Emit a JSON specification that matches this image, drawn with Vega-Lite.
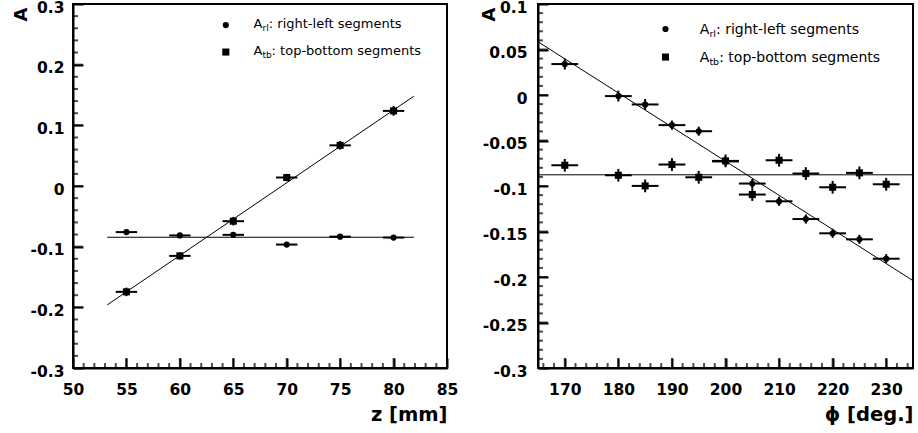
{
  "$schema": "https://vega.github.io/schema/vega-lite/v6.json",
  "padding": {"left": 11, "top": -1, "right": 5, "bottom": 5},
  "bounds": "flush",
  "spacing": 91,
  "config": {
    "font": "DejaVu Sans",
    "view": {"stroke": "black", "strokeWidth": 2},
    "axis": {
      "labelFont": "DejaVu Sans", "labelFontWeight": "bold", "labelFontSize": 15.5, "labelColor": "black",
      "titleFont": "DejaVu Sans", "titleFontWeight": "bold", "titleFontSize": 19.5, "titleColor": "black",
      "domainColor": "black", "domainWidth": 2, "tickColor": "black", "tickWidth": 2,
      "grid": false, "labelFlush": false, "labelOverlap": false
    }
  },
  "datasets": {
    "zMajor": [{"v": 55}, {"v": 60}, {"v": 65}, {"v": 70}, {"v": 75}, {"v": 80}],
    "zMinor": [{"v": 51}, {"v": 52}, {"v": 53}, {"v": 54}, {"v": 56}, {"v": 57}, {"v": 58}, {"v": 59}, {"v": 61}, {"v": 62}, {"v": 63}, {"v": 64},
      {"v": 66}, {"v": 67}, {"v": 68}, {"v": 69}, {"v": 71}, {"v": 72}, {"v": 73}, {"v": 74}, {"v": 76}, {"v": 77}, {"v": 78}, {"v": 79},
      {"v": 81}, {"v": 82}, {"v": 83}, {"v": 84}],
    "aZMajor": [{"v": -0.2}, {"v": -0.1}, {"v": 0}, {"v": 0.1}, {"v": 0.2}],
    "aZMinor": [{"v": -0.28}, {"v": -0.26}, {"v": -0.24}, {"v": -0.22}, {"v": -0.18}, {"v": -0.16}, {"v": -0.14}, {"v": -0.12},
      {"v": -0.08}, {"v": -0.06}, {"v": -0.04}, {"v": -0.02}, {"v": 0.02}, {"v": 0.04}, {"v": 0.06}, {"v": 0.08},
      {"v": 0.12}, {"v": 0.14}, {"v": 0.16}, {"v": 0.18}, {"v": 0.22}, {"v": 0.24}, {"v": 0.26}, {"v": 0.28}],
    "phiMajor": [{"v": 170}, {"v": 180}, {"v": 190}, {"v": 200}, {"v": 210}, {"v": 220}, {"v": 230}],
    "phiMinor": [{"v": 166}, {"v": 168}, {"v": 172}, {"v": 174}, {"v": 176}, {"v": 178}, {"v": 182}, {"v": 184}, {"v": 186}, {"v": 188},
      {"v": 192}, {"v": 194}, {"v": 196}, {"v": 198}, {"v": 202}, {"v": 204}, {"v": 206}, {"v": 208}, {"v": 212}, {"v": 214},
      {"v": 216}, {"v": 218}, {"v": 222}, {"v": 224}, {"v": 226}, {"v": 228}, {"v": 232}, {"v": 234}],
    "aPMajor": [{"v": -0.25}, {"v": -0.2}, {"v": -0.15}, {"v": -0.1}, {"v": -0.05}, {"v": 0}, {"v": 0.05}],
    "aPMinor": [{"v": -0.29}, {"v": -0.28}, {"v": -0.27}, {"v": -0.26}, {"v": -0.24}, {"v": -0.23}, {"v": -0.22}, {"v": -0.21},
      {"v": -0.19}, {"v": -0.18}, {"v": -0.17}, {"v": -0.16}, {"v": -0.14}, {"v": -0.13}, {"v": -0.12}, {"v": -0.11},
      {"v": -0.09}, {"v": -0.08}, {"v": -0.07}, {"v": -0.06}, {"v": -0.04}, {"v": -0.03}, {"v": -0.02}, {"v": -0.01},
      {"v": 0.01}, {"v": 0.02}, {"v": 0.03}, {"v": 0.04}, {"v": 0.06}, {"v": 0.07}, {"v": 0.08}, {"v": 0.09}],
    "pointsZ": [
      {"series": "rl", "z": 55, "A": -0.076, "zLo": 54, "zHi": 56, "ALo": -0.079, "AHi": -0.073},
      {"series": "rl", "z": 60, "A": -0.0815, "zLo": 59, "zHi": 61, "ALo": -0.0845, "AHi": -0.0785},
      {"series": "rl", "z": 65, "A": -0.0805, "zLo": 64, "zHi": 66, "ALo": -0.0835, "AHi": -0.0775},
      {"series": "rl", "z": 70, "A": -0.0965, "zLo": 69, "zHi": 71, "ALo": -0.0995, "AHi": -0.0935},
      {"series": "rl", "z": 75, "A": -0.0835, "zLo": 74, "zHi": 76, "ALo": -0.0865, "AHi": -0.0805},
      {"series": "rl", "z": 80, "A": -0.085, "zLo": 79, "zHi": 81, "ALo": -0.088, "AHi": -0.082},
      {"series": "tb", "z": 55, "A": -0.1745, "zLo": 54, "zHi": 56, "ALo": -0.1815, "AHi": -0.1675},
      {"series": "tb", "z": 60, "A": -0.1152, "zLo": 59, "zHi": 61, "ALo": -0.1212, "AHi": -0.1092},
      {"series": "tb", "z": 65, "A": -0.058, "zLo": 64, "zHi": 66, "ALo": -0.065, "AHi": -0.051},
      {"series": "tb", "z": 70, "A": 0.014, "zLo": 69, "zHi": 71, "ALo": 0.008, "AHi": 0.02},
      {"series": "tb", "z": 75, "A": 0.067, "zLo": 74, "zHi": 76, "ALo": 0.06, "AHi": 0.074},
      {"series": "tb", "z": 80, "A": 0.1238, "zLo": 79, "zHi": 81, "ALo": 0.1158, "AHi": 0.1318}
    ],
    "fitsZ": [
      {"fit": "rl", "z": 53.2, "A": -0.0845},
      {"fit": "rl", "z": 81.9, "A": -0.0845},
      {"fit": "tb", "z": 53.2, "A": -0.196},
      {"fit": "tb", "z": 81.9, "A": 0.148}
    ],
    "pointsPhi": [
      {"series": "rl", "phi": 170, "A": 0.034, "pLo": 167.5, "pHi": 172.5, "ALo": 0.028, "AHi": 0.04},
      {"series": "rl", "phi": 180, "A": -0.0012, "pLo": 177.5, "pHi": 182.5, "ALo": -0.0072, "AHi": 0.0048},
      {"series": "rl", "phi": 185, "A": -0.0104, "pLo": 182.5, "pHi": 187.5, "ALo": -0.0164, "AHi": -0.0044},
      {"series": "rl", "phi": 190, "A": -0.0331, "pLo": 187.5, "pHi": 192.5, "ALo": -0.0381, "AHi": -0.0281},
      {"series": "rl", "phi": 195, "A": -0.0398, "pLo": 192.5, "pHi": 197.5, "ALo": -0.0448, "AHi": -0.0348},
      {"series": "rl", "phi": 200, "A": -0.073, "pLo": 197.5, "pHi": 202.5, "ALo": -0.078, "AHi": -0.068},
      {"series": "rl", "phi": 205, "A": -0.0973, "pLo": 202.5, "pHi": 207.5, "ALo": -0.1023, "AHi": -0.0923},
      {"series": "rl", "phi": 210, "A": -0.1168, "pLo": 207.5, "pHi": 212.5, "ALo": -0.1218, "AHi": -0.1118},
      {"series": "rl", "phi": 215, "A": -0.1363, "pLo": 212.5, "pHi": 217.5, "ALo": -0.1413, "AHi": -0.1313},
      {"series": "rl", "phi": 220, "A": -0.152, "pLo": 217.5, "pHi": 222.5, "ALo": -0.157, "AHi": -0.147},
      {"series": "rl", "phi": 225, "A": -0.1586, "pLo": 222.5, "pHi": 227.5, "ALo": -0.1636, "AHi": -0.1536},
      {"series": "rl", "phi": 230, "A": -0.1799, "pLo": 227.5, "pHi": 232.5, "ALo": -0.1849, "AHi": -0.1749},
      {"series": "tb", "phi": 170, "A": -0.0772, "pLo": 167.5, "pHi": 172.5, "ALo": -0.0842, "AHi": -0.0702},
      {"series": "tb", "phi": 180, "A": -0.0882, "pLo": 177.5, "pHi": 182.5, "ALo": -0.0952, "AHi": -0.0812},
      {"series": "tb", "phi": 185, "A": -0.0999, "pLo": 182.5, "pHi": 187.5, "ALo": -0.1069, "AHi": -0.0929},
      {"series": "tb", "phi": 190, "A": -0.0764, "pLo": 187.5, "pHi": 192.5, "ALo": -0.0834, "AHi": -0.0694},
      {"series": "tb", "phi": 195, "A": -0.0904, "pLo": 192.5, "pHi": 197.5, "ALo": -0.0974, "AHi": -0.0834},
      {"series": "tb", "phi": 200, "A": -0.0724, "pLo": 197.5, "pHi": 202.5, "ALo": -0.0794, "AHi": -0.0654},
      {"series": "tb", "phi": 205, "A": -0.1094, "pLo": 202.5, "pHi": 207.5, "ALo": -0.1164, "AHi": -0.1024},
      {"series": "tb", "phi": 210, "A": -0.0717, "pLo": 207.5, "pHi": 212.5, "ALo": -0.0787, "AHi": -0.0647},
      {"series": "tb", "phi": 215, "A": -0.0863, "pLo": 212.5, "pHi": 217.5, "ALo": -0.0933, "AHi": -0.0793},
      {"series": "tb", "phi": 220, "A": -0.1014, "pLo": 217.5, "pHi": 222.5, "ALo": -0.1084, "AHi": -0.0944},
      {"series": "tb", "phi": 225, "A": -0.0856, "pLo": 222.5, "pHi": 227.5, "ALo": -0.0926, "AHi": -0.0786},
      {"series": "tb", "phi": 230, "A": -0.0981, "pLo": 227.5, "pHi": 232.5, "ALo": -0.1051, "AHi": -0.0911}
    ],
    "fitsPhi": [
      {"fit": "rl", "phi": 165, "A": 0.0585},
      {"fit": "rl", "phi": 235, "A": -0.204},
      {"fit": "tb", "phi": 165, "A": -0.0877},
      {"fit": "tb", "phi": 235, "A": -0.0877}
    ],
    "legendRows": [
      {"series": "rl", "main": "A", "sub": "rl", "desc": ": right-left segments"},
      {"series": "tb", "main": "A", "sub": "tb", "desc": ": top-bottom segments"}
    ]
  },
  "hconcat": [
    {
      "width": 374,
      "height": 364,
      "resolve": {"axis": {"x": "independent", "y": "independent"}},
      "layer": [
        {
          "data": {"name": "fitsZ"},
          "mark": {"type": "line", "color": "black", "strokeWidth": 1, "clip": true},
          "encoding": {
            "x": {"field": "z", "type": "quantitative",
              "scale": {"domain": [50, 85], "nice": false, "zero": false},
              "axis": {"orient": "bottom", "values": [50, 55, 60, 65, 70, 75, 80, 85], "format": "d",
                "tickSize": -10, "labelPadding": 36.5, "labelBaseline": "alphabetic",
                "title": "z [mm]", "titleAnchor": "end", "titleAlign": "right", "titleX": 374, "titleY": 52.5, "titleBaseline": "alphabetic"}},
            "y": {"field": "A", "type": "quantitative",
              "scale": {"domain": [-0.3, 0.3], "nice": false, "zero": false},
              "axis": {"orient": "left", "values": [-0.3, -0.2, -0.1, 0, 0.1, 0.2, 0.3],
                "labelExpr": "replace(format(datum.value, '.1~f'), '\u2212', '-')",
                "tickSize": -10, "labelPadding": 19, "labelOffset": 3,
                "title": "A", "titleFontSize": 18, "titleAngle": 270, "titleX": -47, "titleY": 10, "titleAlign": "center", "titleBaseline": "alphabetic"}},
            "detail": {"field": "fit"}
          }
        },
        {
          "data": {"name": "zMajor"},
          "mark": {"type": "tick", "color": "black", "orient": "vertical", "thickness": 2, "size": 10},
          "encoding": {
            "x": {"field": "v", "type": "quantitative", "axis": null},
            "y": {"datum": -0.2918, "type": "quantitative", "axis": null}
          }
        },
        {
          "data": {"name": "zMinor"},
          "mark": {"type": "tick", "color": "black", "orient": "vertical", "thickness": 2, "size": 5},
          "encoding": {
            "x": {"field": "v", "type": "quantitative", "axis": null},
            "y": {"datum": -0.2959, "type": "quantitative", "axis": null}
          }
        },
        {
          "data": {"name": "aZMajor"},
          "mark": {"type": "tick", "color": "black", "orient": "horizontal", "thickness": 2, "size": 10},
          "encoding": {
            "y": {"field": "v", "type": "quantitative", "axis": null},
            "x": {"datum": 50.468, "type": "quantitative", "axis": null}
          }
        },
        {
          "data": {"name": "aZMinor"},
          "mark": {"type": "tick", "color": "black", "orient": "horizontal", "thickness": 2, "size": 5},
          "encoding": {
            "y": {"field": "v", "type": "quantitative", "axis": null},
            "x": {"datum": 50.234, "type": "quantitative", "axis": null}
          }
        },
        {
          "data": {"name": "pointsZ"},
          "mark": {"type": "rule", "color": "black", "strokeWidth": 2},
          "encoding": {
            "x": {"field": "zLo", "type": "quantitative", "axis": null},
            "x2": {"field": "zHi"},
            "y": {"field": "A", "type": "quantitative", "axis": null}
          }
        },
        {
          "data": {"name": "pointsZ"},
          "mark": {"type": "rule", "color": "black", "strokeWidth": 2},
          "encoding": {
            "x": {"field": "z", "type": "quantitative", "axis": null},
            "y": {"field": "ALo", "type": "quantitative", "axis": null},
            "y2": {"field": "AHi"}
          }
        },
        {
          "data": {"name": "pointsZ"},
          "transform": [{"filter": "datum.series === 'rl'"}],
          "mark": {"type": "point", "shape": "circle", "filled": true, "color": "black", "opacity": 1, "size": 38},
          "encoding": {
            "x": {"field": "z", "type": "quantitative", "axis": null},
            "y": {"field": "A", "type": "quantitative", "axis": null}
          }
        },
        {
          "data": {"name": "pointsZ"},
          "transform": [{"filter": "datum.series === 'tb'"}],
          "mark": {"type": "point", "shape": "square", "filled": true, "color": "black", "opacity": 1, "size": 50},
          "encoding": {
            "x": {"field": "z", "type": "quantitative", "axis": null},
            "y": {"field": "A", "type": "quantitative", "axis": null}
          }
        },
        {
          "data": {"name": "legendRows"},
          "transform": [{"filter": "datum.series === 'rl'"}],
          "mark": {"type": "point", "shape": "circle", "filled": true, "color": "black", "opacity": 1, "size": 38},
          "encoding": {
            "x": {"datum": 64.3, "type": "quantitative", "axis": null},
            "y": {"datum": 0.2653, "type": "quantitative", "axis": null}
          }
        },
        {
          "data": {"name": "legendRows"},
          "transform": [{"filter": "datum.series === 'tb'"}],
          "mark": {"type": "point", "shape": "square", "filled": true, "color": "black", "opacity": 1, "size": 50},
          "encoding": {
            "x": {"datum": 64.3, "type": "quantitative", "axis": null},
            "y": {"datum": 0.2208, "type": "quantitative", "axis": null}
          }
        },
        {
          "data": {"name": "legendRows"},
          "transform": [{"filter": "datum.series === 'rl'"}],
          "mark": {"type": "text", "align": "left", "baseline": "alphabetic", "fontSize": 13, "color": "black"},
          "encoding": {
            "x": {"datum": 66.9, "type": "quantitative", "axis": null},
            "y": {"datum": 0.2599, "type": "quantitative", "axis": null},
            "text": {"field": "main"}
          }
        },
        {
          "data": {"name": "legendRows"},
          "transform": [{"filter": "datum.series === 'rl'"}],
          "mark": {"type": "text", "align": "left", "baseline": "alphabetic", "fontSize": 9, "dx": 9, "dy": 3, "color": "black"},
          "encoding": {
            "x": {"datum": 66.9, "type": "quantitative", "axis": null},
            "y": {"datum": 0.2599, "type": "quantitative", "axis": null},
            "text": {"field": "sub"}
          }
        },
        {
          "data": {"name": "legendRows"},
          "transform": [{"filter": "datum.series === 'rl'"}],
          "mark": {"type": "text", "align": "left", "baseline": "alphabetic", "fontSize": 13, "dx": 15.2, "color": "black"},
          "encoding": {
            "x": {"datum": 66.9, "type": "quantitative", "axis": null},
            "y": {"datum": 0.2599, "type": "quantitative", "axis": null},
            "text": {"field": "desc"}
          }
        },
        {
          "data": {"name": "legendRows"},
          "transform": [{"filter": "datum.series === 'tb'"}],
          "mark": {"type": "text", "align": "left", "baseline": "alphabetic", "fontSize": 13, "color": "black"},
          "encoding": {
            "x": {"datum": 66.9, "type": "quantitative", "axis": null},
            "y": {"datum": 0.2158, "type": "quantitative", "axis": null},
            "text": {"field": "main"}
          }
        },
        {
          "data": {"name": "legendRows"},
          "transform": [{"filter": "datum.series === 'tb'"}],
          "mark": {"type": "text", "align": "left", "baseline": "alphabetic", "fontSize": 9, "dx": 9, "dy": 3, "color": "black"},
          "encoding": {
            "x": {"datum": 66.9, "type": "quantitative", "axis": null},
            "y": {"datum": 0.2158, "type": "quantitative", "axis": null},
            "text": {"field": "sub"}
          }
        },
        {
          "data": {"name": "legendRows"},
          "transform": [{"filter": "datum.series === 'tb'"}],
          "mark": {"type": "text", "align": "left", "baseline": "alphabetic", "fontSize": 13, "dx": 18, "color": "black"},
          "encoding": {
            "x": {"datum": 66.9, "type": "quantitative", "axis": null},
            "y": {"datum": 0.2158, "type": "quantitative", "axis": null},
            "text": {"field": "desc"}
          }
        }
      ]
    },
    {
      "width": 375,
      "height": 364,
      "resolve": {"axis": {"x": "independent", "y": "independent"}},
      "layer": [
        {
          "data": {"name": "fitsPhi"},
          "mark": {"type": "line", "color": "black", "strokeWidth": 1, "clip": true},
          "encoding": {
            "x": {"field": "phi", "type": "quantitative",
              "scale": {"domain": [165, 235], "nice": false, "zero": false},
              "axis": {"orient": "bottom", "values": [170, 180, 190, 200, 210, 220, 230], "format": "d",
                "tickSize": -10, "labelPadding": 36.5, "labelBaseline": "alphabetic",
                "title": "ϕ [deg.]", "titleAnchor": "end", "titleAlign": "right", "titleX": 375, "titleY": 52.5, "titleBaseline": "alphabetic"}},
            "y": {"field": "A", "type": "quantitative",
              "scale": {"domain": [-0.3, 0.1], "nice": false, "zero": false},
              "axis": {"orient": "left", "values": [-0.3, -0.25, -0.2, -0.15, -0.1, -0.05, 0, 0.05, 0.1],
                "labelExpr": "replace(format(datum.value, '.2~f'), '\u2212', '-')",
                "tickSize": -10, "labelPadding": 21, "labelOffset": 3,
                "title": "A", "titleFontSize": 18, "titleAngle": 270, "titleX": -44, "titleY": 10, "titleAlign": "center", "titleBaseline": "alphabetic"}},
            "detail": {"field": "fit"}
          }
        },
        {
          "data": {"name": "phiMajor"},
          "mark": {"type": "tick", "color": "black", "orient": "vertical", "thickness": 2, "size": 10},
          "encoding": {
            "x": {"field": "v", "type": "quantitative", "axis": null},
            "y": {"datum": -0.2945, "type": "quantitative", "axis": null}
          }
        },
        {
          "data": {"name": "phiMinor"},
          "mark": {"type": "tick", "color": "black", "orient": "vertical", "thickness": 2, "size": 5},
          "encoding": {
            "x": {"field": "v", "type": "quantitative", "axis": null},
            "y": {"datum": -0.2973, "type": "quantitative", "axis": null}
          }
        },
        {
          "data": {"name": "aPMajor"},
          "mark": {"type": "tick", "color": "black", "orient": "horizontal", "thickness": 2, "size": 10},
          "encoding": {
            "y": {"field": "v", "type": "quantitative", "axis": null},
            "x": {"datum": 165.933, "type": "quantitative", "axis": null}
          }
        },
        {
          "data": {"name": "aPMinor"},
          "mark": {"type": "tick", "color": "black", "orient": "horizontal", "thickness": 2, "size": 5},
          "encoding": {
            "y": {"field": "v", "type": "quantitative", "axis": null},
            "x": {"datum": 165.467, "type": "quantitative", "axis": null}
          }
        },
        {
          "data": {"name": "pointsPhi"},
          "mark": {"type": "rule", "color": "black", "strokeWidth": 2},
          "encoding": {
            "x": {"field": "pLo", "type": "quantitative", "axis": null},
            "x2": {"field": "pHi"},
            "y": {"field": "A", "type": "quantitative", "axis": null}
          }
        },
        {
          "data": {"name": "pointsPhi"},
          "mark": {"type": "rule", "color": "black", "strokeWidth": 2},
          "encoding": {
            "x": {"field": "phi", "type": "quantitative", "axis": null},
            "y": {"field": "ALo", "type": "quantitative", "axis": null},
            "y2": {"field": "AHi"}
          }
        },
        {
          "data": {"name": "pointsPhi"},
          "transform": [{"filter": "datum.series === 'rl'"}],
          "mark": {"type": "point", "shape": "circle", "filled": true, "color": "black", "opacity": 1, "size": 38},
          "encoding": {
            "x": {"field": "phi", "type": "quantitative", "axis": null},
            "y": {"field": "A", "type": "quantitative", "axis": null}
          }
        },
        {
          "data": {"name": "pointsPhi"},
          "transform": [{"filter": "datum.series === 'tb'"}],
          "mark": {"type": "point", "shape": "square", "filled": true, "color": "black", "opacity": 1, "size": 50},
          "encoding": {
            "x": {"field": "phi", "type": "quantitative", "axis": null},
            "y": {"field": "A", "type": "quantitative", "axis": null}
          }
        },
        {
          "data": {"name": "legendRows"},
          "transform": [{"filter": "datum.series === 'rl'"}],
          "mark": {"type": "point", "shape": "circle", "filled": true, "color": "black", "opacity": 1, "size": 38},
          "encoding": {
            "x": {"datum": 188.8, "type": "quantitative", "axis": null},
            "y": {"datum": 0.0725, "type": "quantitative", "axis": null}
          }
        },
        {
          "data": {"name": "legendRows"},
          "transform": [{"filter": "datum.series === 'tb'"}],
          "mark": {"type": "point", "shape": "square", "filled": true, "color": "black", "opacity": 1, "size": 50},
          "encoding": {
            "x": {"datum": 188.8, "type": "quantitative", "axis": null},
            "y": {"datum": 0.0417, "type": "quantitative", "axis": null}
          }
        },
        {
          "data": {"name": "legendRows"},
          "transform": [{"filter": "datum.series === 'rl'"}],
          "mark": {"type": "text", "align": "left", "baseline": "alphabetic", "fontSize": 14, "color": "black"},
          "encoding": {
            "x": {"datum": 195.2, "type": "quantitative", "axis": null},
            "y": {"datum": 0.0675, "type": "quantitative", "axis": null},
            "text": {"field": "main"}
          }
        },
        {
          "data": {"name": "legendRows"},
          "transform": [{"filter": "datum.series === 'rl'"}],
          "mark": {"type": "text", "align": "left", "baseline": "alphabetic", "fontSize": 9.5, "dx": 9.6, "dy": 3.2, "color": "black"},
          "encoding": {
            "x": {"datum": 195.2, "type": "quantitative", "axis": null},
            "y": {"datum": 0.0675, "type": "quantitative", "axis": null},
            "text": {"field": "sub"}
          }
        },
        {
          "data": {"name": "legendRows"},
          "transform": [{"filter": "datum.series === 'rl'"}],
          "mark": {"type": "text", "align": "left", "baseline": "alphabetic", "fontSize": 14, "dx": 16.2, "color": "black"},
          "encoding": {
            "x": {"datum": 195.2, "type": "quantitative", "axis": null},
            "y": {"datum": 0.0675, "type": "quantitative", "axis": null},
            "text": {"field": "desc"}
          }
        },
        {
          "data": {"name": "legendRows"},
          "transform": [{"filter": "datum.series === 'tb'"}],
          "mark": {"type": "text", "align": "left", "baseline": "alphabetic", "fontSize": 14, "color": "black"},
          "encoding": {
            "x": {"datum": 195.2, "type": "quantitative", "axis": null},
            "y": {"datum": 0.0367, "type": "quantitative", "axis": null},
            "text": {"field": "main"}
          }
        },
        {
          "data": {"name": "legendRows"},
          "transform": [{"filter": "datum.series === 'tb'"}],
          "mark": {"type": "text", "align": "left", "baseline": "alphabetic", "fontSize": 9.5, "dx": 9.6, "dy": 3.2, "color": "black"},
          "encoding": {
            "x": {"datum": 195.2, "type": "quantitative", "axis": null},
            "y": {"datum": 0.0367, "type": "quantitative", "axis": null},
            "text": {"field": "sub"}
          }
        },
        {
          "data": {"name": "legendRows"},
          "transform": [{"filter": "datum.series === 'tb'"}],
          "mark": {"type": "text", "align": "left", "baseline": "alphabetic", "fontSize": 14, "dx": 19.4, "color": "black"},
          "encoding": {
            "x": {"datum": 195.2, "type": "quantitative", "axis": null},
            "y": {"datum": 0.0367, "type": "quantitative", "axis": null},
            "text": {"field": "desc"}
          }
        }
      ]
    }
  ]
}
